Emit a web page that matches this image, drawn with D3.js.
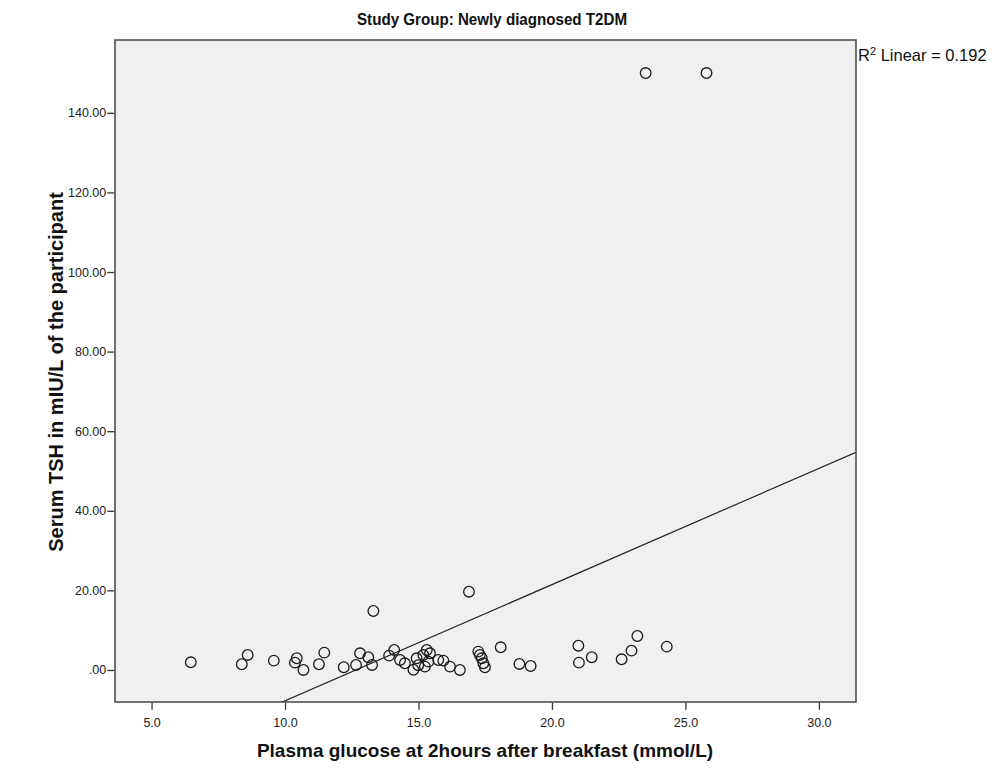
<!DOCTYPE html>
<html><head><meta charset="utf-8">
<script src="https://cdn.jsdelivr.net/npm/d3@7"></script>
<style>body{margin:0;background:#fff}svg{display:block}</style>
</head><body>
<svg id="chart" width="995" height="776"></svg>
<script>
const glucose = [6.47, 8.38, 8.60, 9.58, 10.44, 10.37, 10.69, 11.27, 11.47, 12.20, 12.66, 12.81, 13.12, 13.26, 13.31, 13.90, 14.09, 14.31, 14.49, 14.81, 14.93, 14.99, 15.18, 15.31, 15.37, 15.24, 15.43, 15.74, 15.93, 16.18, 16.55, 16.89, 17.24, 17.30, 17.37, 17.43, 17.49, 18.08, 18.78, 19.20, 20.99, 21.01, 21.49, 22.61, 22.98, 23.20, 23.51, 24.30, 25.79];
const tsh = [1.93, 1.43, 3.77, 2.34, 2.94, 1.84, 0.0, 1.43, 4.35, 0.68, 1.26, 4.19, 3.19, 1.26, 14.82, 3.60, 5.03, 2.51, 1.68, 0.05, 2.93, 1.20, 3.77, 5.03, 2.09, 0.84, 4.19, 2.51, 2.34, 0.84, 0.0, 19.67, 4.61, 3.77, 2.93, 1.68, 0.68, 5.70, 1.51, 1.00, 6.10, 1.84, 3.19, 2.68, 4.85, 8.54, 150.0, 5.86, 150.0];
const xTicks = [5, 10, 15, 20, 25, 30];
const xTickLabels = ["5.0", "10.0", "15.0", "20.0", "25.0", "30.0"];
const yTicks = [0, 20, 40, 60, 80, 100, 120, 140];
const yTickLabels = [".00", "20.00", "40.00", "60.00", "80.00", "100.00", "120.00", "140.00"];
const fitLine = [-36.95, 2.92]; // intercept, slope
const rSquared = "0.192";

const svg = d3.select("#chart");
const pL = 115, pR = 856, pT = 40, pB = 702;
const FONT = "Arial, 'Liberation Sans', sans-serif";
const x = d3.scaleLinear().domain([3.63, 31.39]).range([pL, pR]);
const y = d3.scaleLinear().domain([-8.05, 158.3]).range([pB, pT]);

svg.append("rect").attr("x", pL).attr("y", pT).attr("width", pR-pL).attr("height", pB-pT)
  .attr("fill", "#f0f0f0");

svg.append("defs").append("clipPath").attr("id", "clip")
  .append("rect").attr("x", pL).attr("y", pT).attr("width", pR-pL).attr("height", pB-pT);

// fit line
const xd = x.domain();
svg.append("line").attr("clip-path", "url(#clip)")
  .attr("x1", x(xd[0])).attr("y1", y(fitLine[0] + fitLine[1]*xd[0]))
  .attr("x2", x(xd[1])).attr("y2", y(fitLine[0] + fitLine[1]*xd[1]))
  .attr("stroke", "#222").attr("stroke-width", 1.2);

// points
svg.append("g").selectAll("circle").data(glucose.map((g,i)=>[g, tsh[i]])).join("circle")
  .attr("cx", d => x(d[0])).attr("cy", d => y(d[1])).attr("r", 5.3)
  .attr("fill", "none").attr("stroke", "#1a1a1a").attr("stroke-width", 1.3);

// frame
svg.append("rect").attr("x", pL).attr("y", pT).attr("width", pR-pL).attr("height", pB-pT)
  .attr("fill", "none").attr("stroke", "#444").attr("stroke-width", 1.5);

// axes
const xAxis = d3.axisBottom(x).tickValues(xTicks).tickFormat((d,i)=>xTickLabels[i]).tickSizeOuter(0).tickSize(7).tickPadding(8);
const gx = svg.append("g").attr("transform", `translate(0,${pB+0.75})`).call(xAxis);
gx.select(".domain").remove();
gx.selectAll("line").attr("stroke", "#333").attr("stroke-width", 1.3);
gx.selectAll("text").attr("font-family", FONT).attr("font-size", 12.5).attr("fill", "#222");

const yAxis = d3.axisLeft(y).tickValues(yTicks).tickFormat((d,i)=>yTickLabels[i]).tickSizeOuter(0).tickSize(7).tickPadding(1);
const gy = svg.append("g").attr("transform", `translate(${pL-0.75},0)`).call(yAxis);
gy.select(".domain").remove();
gy.selectAll("line").attr("stroke", "#333").attr("stroke-width", 1.3);
gy.selectAll("text").attr("font-family", FONT).attr("font-size", 12.5).attr("fill", "#222");

// title
svg.append("text").attr("x", 492).attr("y", 25).attr("text-anchor", "middle")
  .attr("font-family", FONT).attr("font-weight", "bold").attr("font-size", 17).attr("fill", "#111")
  .attr("textLength", 270).attr("lengthAdjust", "spacingAndGlyphs")
  .text("Study Group: Newly diagnosed T2DM");

// axis titles
svg.append("text").attr("x", 485).attr("y", 757).attr("text-anchor", "middle")
  .attr("font-family", FONT).attr("font-weight", "bold").attr("font-size", 19).attr("fill", "#111")
  .text("Plasma glucose at 2hours after breakfast (mmol/L)");
svg.append("text").attr("transform", `translate(63,${(pT+pB)/2 + 1}) rotate(-90)`).attr("text-anchor", "middle")
  .attr("font-family", FONT).attr("font-weight", "bold").attr("font-size", 20).attr("fill", "#111")
  .text("Serum TSH in mIU/L of the participant");

// R2 label
const r2 = svg.append("text").attr("x", 858).attr("y", 61)
  .attr("font-family", FONT).attr("font-size", 16.5).attr("fill", "#111");
r2.append("tspan").text("R");
r2.append("tspan").attr("dy", -6).attr("font-size", 11).text("2");
r2.append("tspan").attr("dy", 6).text(" Linear = " + rSquared);
</script>
</body></html>
